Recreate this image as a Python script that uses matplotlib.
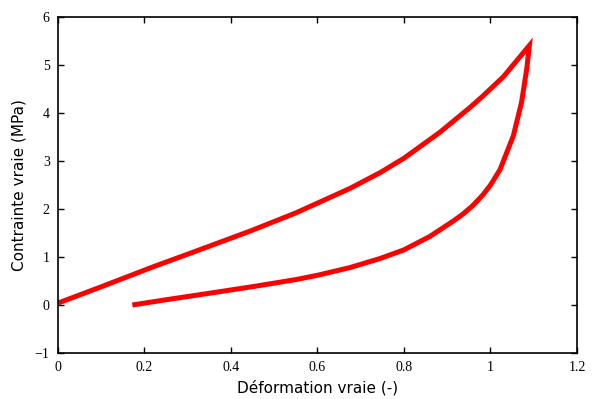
import matplotlib
matplotlib.use("Agg")
import matplotlib.pyplot as plt

# courbe de charge
charge_x = [0.0, 0.1, 0.224, 0.3, 0.444, 0.55, 0.675, 0.745, 0.8, 0.883, 0.953, 0.983, 1.03, 1.09]
charge_y = [0.04, 0.38, 0.81, 1.06, 1.54, 1.92, 2.43, 2.76, 3.06, 3.6, 4.12, 4.36, 4.76, 5.41]

# courbe de decharge
decharge_x = [1.09, 1.084, 1.072, 1.053, 1.022, 1.0, 0.983, 0.96, 0.937, 0.914, 0.86, 0.8,
              0.745, 0.675, 0.6, 0.55, 0.455, 0.35, 0.25, 0.172]
decharge_y = [5.41, 4.93, 4.23, 3.53, 2.82, 2.5, 2.3, 2.08, 1.9, 1.75, 1.43, 1.15,
              0.97, 0.78, 0.62, 0.53, 0.39, 0.245, 0.11, 0.0]

xticks = [0, 0.2, 0.4, 0.6, 0.8, 1, 1.2]
xticklabels = ["0", "0.2", "0.4", "0.6", "0.8", "1", "1.2"]
yticks = [-1, 0, 1, 2, 3, 4, 5, 6]

fig = plt.figure(figsize=(5.94, 3.99), dpi=100)
ax = fig.add_axes([0.0976, 0.1153, 0.8737, 0.8417])

ax.plot(charge_x + decharge_x, charge_y + decharge_y, color="#ff0000", lw=3.6,
        solid_joinstyle="miter", solid_capstyle="butt")

ax.set_xlim(0, 1.2)
ax.set_ylim(-1, 6)
ax.set_xticks(xticks)
ax.set_xticklabels(xticklabels)
ax.set_yticks(yticks)
for lab in ax.get_xticklabels() + ax.get_yticklabels():
    lab.set_family("Liberation Serif")
    lab.set_fontsize(10)
ax.tick_params(direction="in", top=True, right=True, length=4, width=1, pad=6)
for s in ax.spines.values():
    s.set_linewidth(1.2)

ax.set_xlabel("Déformation vraie (-)", fontsize=11, family="DejaVu Sans", labelpad=4)
ax.set_ylabel("Contrainte vraie (MPa)", fontsize=11, family="DejaVu Sans", labelpad=6)

fig.savefig("out.png", dpi=100)
